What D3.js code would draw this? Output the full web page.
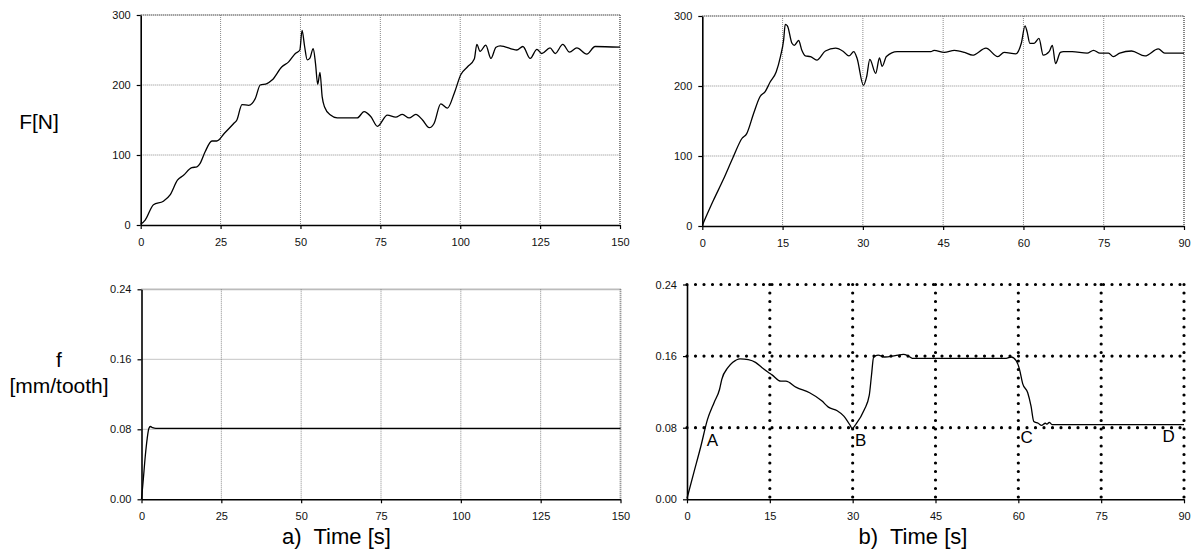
<!DOCTYPE html>
<html><head><meta charset="utf-8">
<script src="https://cdn.jsdelivr.net/npm/d3@7"></script>
<style>
html,body{margin:0;padding:0;background:#fff;}
svg{display:block;font-family:"Liberation Sans",Arial,sans-serif;}
</style></head><body>
<svg id="c" width="1196" height="551"></svg>
<script>
// ---------- data ----------
const timeTicksA = [0, 25, 50, 75, 100, 125, 150];
const timeTicksB = [0, 15, 30, 45, 60, 75, 90];
const forceTicks = [0, 100, 200, 300];
const feedTicks  = [0, 0.08, 0.16, 0.24];

// a) force vs time
const tForceA = [0,1.4,4,7.1,9.2,11.5,13.4,16,17.6,18.6,20.2,22.3,23.8,26.2,29.1,30.1,31.7,33.8,35.9,37.4,39.5,41.1,44.2,46.3,48.4,49.8,50.5,51.3,52.1,52.9,54,54.7,55.4,56.1,56.8,57.5,59.4,61.5,67.8,69.9,72,74.1,77.2,79.8,81.9,84,86.1,88.2,90.3,91.8,93.9,96,98.1,100.2,102.3,104.4,105.2,106.2,108,109.6,111.2,112.5,117.7,119.6,121.9,124,125.5,128.1,129.7,132.1,134.2,136.5,139.6,142.2,150];
const forceA  = [1,7,29,34,43,64,71,82,83,88,105,120,120,131,145,150,172,171,181,200,202,207,226,233,245,250,278,255,236,238,252,231,201,218,183,169,157,153,153,162,155,141,157,154,158,153,158,150,139,145,173,167,188,215,226,237,258,248,257,238,254,256,250,255,238,251,245,253,245,258,247,253,244,255,254];

// b) force vs time
const tForceB = [0,2.1,3.9,5.8,7.4,8.3,9.6,10.8,11.75,12.7,13.8,14.6,15.2,15.5,15.9,16.75,17.2,18,18.6,19.25,20.2,21.4,23,24.9,26.4,27.4,28.3,28.9,30.1,30.7,31.3,32.4,33.1,33.6,34.4,36.4,42.7,43.3,45.2,47.1,49,50.5,53,55.2,56.4,58.6,59.6,60.3,60.7,61.2,62,62.9,63.7,64.8,65.4,66,66.9,67.5,69.1,71.9,73.1,74.3,75.9,76.8,78,80.2,82.7,85.2,86.4,90];
const forceB  = [1,37,66,99,125,132,161,185,192,206,220,242,266,288,286,261,258,265,251,243,242,237,250,254,249,243,249,240,201,213,238,218,240,228,242,249,249,251,248,251,248,244,254,242,248,246,261,286,277,261,261,268,244,249,258,232,248,249,249,247,251,247,247,242,247,250,243,253,247,247];

// a) feed vs time
const tFeedA = [0,0.5,1.2,1.8,2.3,2.8,3.5,4.5,150];
const feedA  = [0,0.02,0.05,0.07,0.081,0.0832,0.0818,0.081,0.081];

// b) feed vs time
const tFeedB = [0,1.2,2.5,3.7,4.9,5.9,6.3,7.4,8.3,9.6,11.1,12.4,13.6,14.7,15.4,17,17.9,19.8,22.2,24.4,25.6,27.2,28.4,29.6,29.9,30.6,32.1,33,33.4,33.8,34.6,35.8,37.7,39.2,40.1,40.8,57.8,58.7,59.6,60.2,60.8,61.7,62.3,62.8,63.6,64.2,64.9,65.2,65.6,66.1,90];
const feedB  = [0.001,0.029,0.059,0.089,0.108,0.123,0.134,0.147,0.153,0.157,0.156,0.153,0.147,0.142,0.139,0.132,0.132,0.125,0.119,0.110,0.103,0.099,0.093,0.082,0.079,0.084,0.1,0.116,0.138,0.159,0.161,0.159,0.1605,0.162,0.16,0.1575,0.1575,0.159,0.155,0.1455,0.129,0.119,0.104,0.087,0.085,0.0825,0.085,0.084,0.086,0.0835,0.0835];

// phase labels (b)
const phaseNames = ["A", "B", "C", "D"];
const phaseTimes = [4.6, 31.45, 61.5, 87.2];
const phaseFeeds = [0.0596, 0.0596, 0.0626, 0.0644];

// ---------- drawing ----------
const svg = d3.select("#c");

function panel(o) {
  const x = d3.scaleLinear().domain(o.xd).range(o.xr);
  const y = d3.scaleLinear().domain(o.yd).range(o.yr);
  const g = svg.append("g");
  const grid = g.append("g");
  // vertical grid
  o.xt.slice(1).forEach((v, i, arr) => {
    const last = i === arr.length - 1;
    grid.append("line")
      .attr("x1", x(v)).attr("x2", x(v)).attr("y1", y(o.yd[1])).attr("y2", y(o.yd[0]))
      .call(s => styleGrid(s, o.dots, last));
  });
  o.yt.slice(1).forEach((v, i, arr) => {
    const last = i === arr.length - 1;
    grid.append("line")
      .attr("y1", y(v)).attr("y2", y(v)).attr("x1", x(o.xd[0])).attr("x2", x(o.xd[1]))
      .call(s => styleGrid(s, o.dots, last));
  });
  // curve
  const line = d3.line().x(d => x(d[0])).y(d => y(d[1])).curve(d3.curveMonotoneX);
  g.append("path").datum(d3.zip(o.tx, o.ty)).attr("d", line)
    .attr("fill", "none").attr("stroke", "#000").attr("stroke-width", 1.3);
  // axes
  const ax = g.append("g").attr("transform", `translate(0,${o.yr[0]})`)
    .call(d3.axisBottom(x).tickValues(o.xt).tickSize(4).tickSizeOuter(0).tickPadding(9));
  const ay = g.append("g").attr("transform", `translate(${o.xr[0]},0)`)
    .call(d3.axisLeft(y).tickValues(o.yt).tickSize(4).tickSizeOuter(0).tickPadding(6)
      .tickFormat(o.fmt));
  [ax, ay].forEach(a => {
    a.select(".domain").attr("stroke", "#000").attr("stroke-width", 1.6);
    a.selectAll(".tick line").attr("stroke", "#000").attr("stroke-width", 1.2);
    a.selectAll("text").attr("font-size", 11).attr("fill", "#111")
      .attr("font-family", '"Liberation Sans",Arial,sans-serif');
  });
  return {x, y, g};
}

function styleGrid(s, dots, last) {
  if (dots) {
    s.attr("stroke", "#000").attr("stroke-width", 3.2)
      .attr("stroke-linecap", "round").attr("stroke-dasharray", "0,8.5");
  } else if (last) {
    s.attr("stroke", "#777").attr("stroke-width", 1.8).attr("stroke-dasharray", "1,1");
  } else {
    s.attr("stroke", "#8a8a8a").attr("stroke-width", 1).attr("stroke-dasharray", "1,1");
  }
}

const fmtF = d3.format("d");
const fmtf = d3.format(".2f");

panel({xd:[0,150], yd:[0,300], xr:[140.7,620], yr:[225,15], xt:timeTicksA, yt:forceTicks, fmt:fmtF, tx:tForceA, ty:forceA, dots:false});
panel({xd:[0,90], yd:[0,300], xr:[702.3,1184], yr:[226,16], xt:timeTicksB, yt:forceTicks, fmt:fmtF, tx:tForceB, ty:forceB, dots:false});
panel({xd:[0,150], yd:[0,0.24], xr:[141.5,620.5], yr:[499.3,289.3], xt:timeTicksA, yt:feedTicks, fmt:fmtf, tx:tFeedA, ty:feedA, dots:false});
const pb = panel({xd:[0,90], yd:[0,0.24], xr:[687,1184], yr:[499.3,284.5], xt:timeTicksB, yt:feedTicks, fmt:fmtf, tx:tFeedB, ty:feedB, dots:true});

pb.g.selectAll("text.phase").data(phaseNames).enter().append("text")
  .attr("class", "phase")
  .attr("x", (d, i) => pb.x(phaseTimes[i]))
  .attr("y", (d, i) => pb.y(phaseFeeds[i]))
  .attr("text-anchor", "middle").attr("font-size", 17).attr("fill", "#000")
  .text(d => d);

// axis titles
const T = (x, y, s, fs, anchor) => svg.append("text").attr("x", x).attr("y", y)
  .attr("font-size", fs).attr("text-anchor", anchor || "middle").attr("fill", "#000")
  .style("white-space", "pre").text(s);
T(39, 129, "F[N]", 21);
T(59, 366.7, "f", 21);
T(59, 393.3, "[mm/tooth]", 21);
T(336.5, 544, "a)  Time [s]", 22);
T(913, 544, "b)  Time [s]", 22);
</script>
</body></html>
